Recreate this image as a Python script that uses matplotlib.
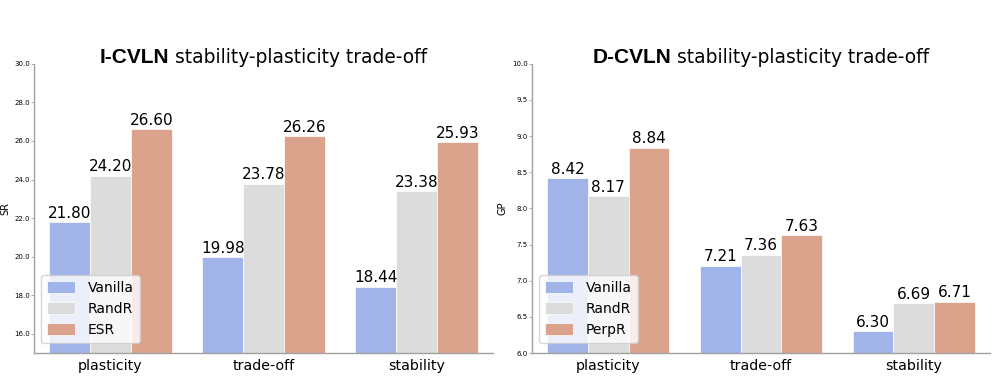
import numpy as np
import matplotlib
matplotlib.use("Agg")
import matplotlib.pyplot as plt
from matplotlib.offsetbox import TextArea, HPacker, AnchoredOffsetbox

categories = ["plasticity", "trade-off", "stability"]

i_methods = ["Vanilla", "RandR", "ESR"]
i_vanilla = [21.80, 19.98, 18.44]
i_randr = [24.20, 23.78, 23.38]
i_esr = [26.60, 26.26, 25.93]

d_methods = ["Vanilla", "RandR", "PerpR"]
d_vanilla = [8.42, 7.21, 6.30]
d_randr = [8.17, 7.36, 6.69]
d_perpr = [8.84, 7.63, 6.71]

colors = ["#a1b4ea", "#dcdcdc", "#dba28c"]
spine_col = "#a0a0a0"


def draw_panel(ax, series, methods, ylim, yticks, ylabel, bold, rest):
    x = np.arange(len(categories))
    w = 0.8 / 3
    for k, (vals, name) in enumerate(zip(series, methods)):
        bars = ax.bar(x + (k - 1) * w, vals, w, color=colors[k], label=name,
                      edgecolor="white", linewidth=0.5)
        ax.bar_label(bars, labels=["%.2f" % v for v in vals], fontsize=11,
                     padding=1)
    ax.set_xlim(-0.5, 2.5)
    ax.set_ylim(*ylim)
    ax.set_yticks(yticks)
    ax.set_yticklabels(["%.1f" % t for t in yticks], fontsize=5)
    ax.set_xticks(x)
    ax.set_xticklabels(categories, fontsize=10.2)
    ax.tick_params(axis="x", length=0, pad=4)
    ax.tick_params(axis="y", length=2, width=0.6, color=spine_col, pad=1)
    ax.set_ylabel(ylabel, fontsize=7, labelpad=3)
    for s in ["top", "right"]:
        ax.spines[s].set_visible(False)
    for s in ["left", "bottom"]:
        ax.spines[s].set_color(spine_col)
        ax.spines[s].set_linewidth(1.0)
    ax.legend(loc="lower left", fontsize=10, handlelength=2.0,
              handleheight=0.9, borderpad=0.45, labelspacing=0.5,
              handletextpad=0.9, framealpha=0.8,
              bbox_to_anchor=(0.0, 0.01))
    t1 = TextArea(bold, textprops=dict(fontsize=15, fontweight="bold",
                                       family="Liberation Sans"))
    t2 = TextArea(rest, textprops=dict(fontsize=13.4, family="DejaVu Sans"))
    box = HPacker(children=[t1, t2], align="baseline", pad=0, sep=4)
    anch = AnchoredOffsetbox(loc="lower center", child=box, pad=0,
                             frameon=False, bbox_to_anchor=(0.5, 0.99),
                             bbox_transform=ax.transAxes, borderpad=0)
    ax.add_artist(anch)


fig = plt.figure(figsize=(10, 3.8), dpi=100)
ax1 = fig.add_axes([0.034, 0.071, 0.459, 0.761])
ax2 = fig.add_axes([0.532, 0.071, 0.458, 0.761])

draw_panel(ax1, [i_vanilla, i_randr, i_esr], i_methods, (15, 30),
           np.arange(16, 30.1, 2), "SR", "I-CVLN",
           "stability-plasticity trade-off")
draw_panel(ax2, [d_vanilla, d_randr, d_perpr], d_methods, (6, 10),
           np.arange(6, 10.01, 0.5), "GP", "D-CVLN",
           "stability-plasticity trade-off")

fig.savefig("out.png", dpi=100)
